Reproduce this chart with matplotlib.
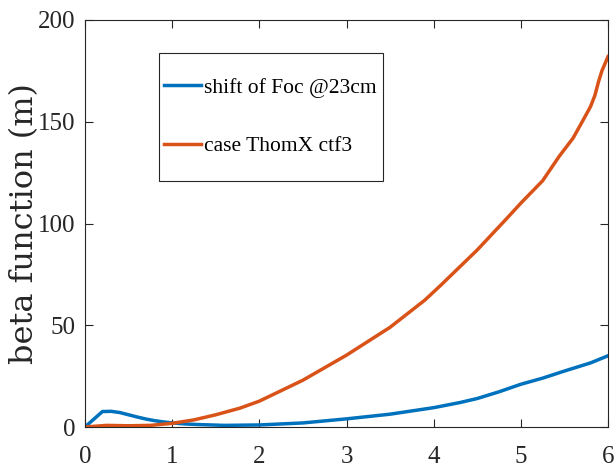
import matplotlib
matplotlib.use('Agg')
import matplotlib.pyplot as plt
from matplotlib.patches import Rectangle

# s positions (m) and beta values (m)
s_blue = [0, 0.1, 0.2, 0.3, 0.4, 0.5, 0.6, 0.7, 0.8, 0.9, 1.0, 1.15, 1.3, 1.6, 2.0, 2.5,
          3.0, 3.5, 4.0, 4.3, 4.5, 4.75, 5.0, 5.25, 5.5, 5.8, 6.0]
beta_blue = [0, 3.8, 7.6, 7.7, 7.1, 6.0, 4.9, 3.9, 3.1, 2.5, 2.0, 1.5, 1.2, 0.8, 1.0, 2.0,
             4.0, 6.3, 9.5, 12.0, 14.0, 17.3, 21.0, 24.0, 27.5, 31.5, 35.0]

s_orange = [0, 0.25, 0.5, 0.75, 1.0, 1.25, 1.5, 1.78, 2.0, 2.5, 3.0, 3.5, 3.9, 4.08,
            4.5, 4.85, 5.0, 5.25, 5.44, 5.6, 5.73, 5.8, 5.85, 5.89, 5.93, 5.97, 6.0]
beta_orange = [0, 0.8, 0.6, 0.8, 1.8, 3.5, 6.0, 9.3, 12.7, 23.0, 35.3, 49.0, 62.4, 69.6,
               87.0, 103.0, 110.0, 121.0, 133.0, 142.0, 152.0, 157.5, 163.0, 169.5, 175.0,
               179.0, 182.0]

labels = ['shift of Foc @23cm', 'case ThomX ctf3']

plt.rcParams['font.family'] = ['Liberation Serif', 'DejaVu Serif']

fig = plt.figure(figsize=(6.15, 4.68), dpi=100)
ax = fig.add_axes([85/615, 41/468, 523/615, 407/468])

ax.plot(s_blue, beta_blue, color='#0072BD', lw=2.5, label=labels[0])
ax.plot(s_orange, beta_orange, color='#D95319', lw=2.5, label=labels[1])

ax.set_xlim(0, 6)
ax.set_ylim(0, 200)
ax.set_xticks(range(0, 7))
ax.set_yticks([0, 50, 100, 150, 200])

for sp in ax.spines.values():
    sp.set_color('#262626')
    sp.set_linewidth(0.8)
ax.tick_params(direction='in', length=6, width=0.8, color='#262626',
               top=True, right=True, labelsize=18, labelcolor='#262626')
ax.tick_params(axis='x', pad=14)
ax.tick_params(axis='y', pad=7)

ax.set_ylabel('beta function (m)', fontsize=23, family='DejaVu Serif', color='#262626')
ax.yaxis.set_label_coords(-0.086, 0.5)

# legend text without frame, box drawn separately (MATLAB-like padding)
handles, _ = ax.get_legend_handles_labels()
leg = fig.legend(handles, labels, loc='center left',
                 bbox_to_anchor=(164/615, 1 - 117/468),
                 fontsize=15.5, frameon=False,
                 handlelength=1.7, handletextpad=0.15, labelspacing=1.8,
                 borderpad=0, borderaxespad=0)
fig.patches.append(Rectangle((159/615, 1 - 181/468), 224/615, 128/468,
                             transform=fig.transFigure, facecolor='white',
                             edgecolor='#262626', lw=0.8, zorder=2.5))

fig.savefig('out.png', dpi=100)
